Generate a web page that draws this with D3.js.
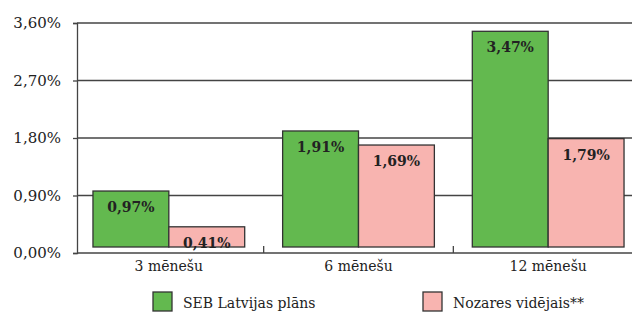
<!DOCTYPE html>
<html>
<head>
<meta charset="utf-8">
<script src="https://cdn.jsdelivr.net/npm/d3@7"></script>
<style>
	body { margin: 0; background: #fff; }
</style>
</head>
<body>
<div id="chart"></div>
<script>
var categories = ["3 mēnešu", "6 mēnešu", "12 mēnešu"];
var seriesNames = ["SEB Latvijas plāns", "Nozares vidējais**"];
var sebValues = [0.97, 1.91, 3.47];
var avgValues = [0.41, 1.69, 1.79];
var yTicks = [0, 0.9, 1.8, 2.7, 3.6];

var colors = ["#63b94f", "#f8b4b0"];
var font = "'DejaVu Serif', serif";

var width = 632, height = 313;
var margin = {top: 23, left: 77, bottom: 60};

var svg = d3.select("#chart").append("svg")
	.attr("width", width)
	.attr("height", height)
	.attr("font-family", font);

var y = d3.scaleLinear()
	.domain([0, 3.6])
	.range([height - margin.bottom, margin.top]);

var x0 = d3.scaleBand()
	.domain(categories)
	.range([74, 643]);

var x1 = d3.scaleBand()
	.domain(seriesNames)
	.range([x0.bandwidth() * 0.1, x0.bandwidth() * 0.9]);

var fmt = function(v) { return v.toFixed(2).replace(".", ",") + "%"; };

// gridlines
svg.append("g").selectAll("line")
	.data(yTicks)
	.enter().append("line")
	.attr("x1", margin.left).attr("x2", width)
	.attr("y1", function(d) { return y(d); })
	.attr("y2", function(d) { return y(d); })
	.style("stroke", "#444")
	.style("stroke-width", 1.3);

// y axis
var yAxis = svg.append("g")
	.attr("transform", "translate(" + margin.left + ",0)")
	.call(d3.axisLeft(y).tickValues(yTicks).tickSize(4).tickPadding(12).tickFormat(fmt));
yAxis.attr("font-family", font).attr("font-size", 15);
yAxis.select(".domain").style("stroke", "#444").style("stroke-width", 1.3);
yAxis.selectAll(".tick line").style("stroke", "#444").style("stroke-width", 1.3);
yAxis.selectAll("text").style("fill", "#222");

// category boundary ticks (pointing up)
svg.append("g").selectAll("line")
	.data(categories.slice(1))
	.enter().append("line")
	.attr("x1", function(d) { return x0(d); })
	.attr("x2", function(d) { return x0(d); })
	.attr("y1", y(0)).attr("y2", y(0) - 7)
	.style("stroke", "#444")
	.style("stroke-width", 1.3);

// bars
var rows = categories.map(function(c, i) {
	return {cat: c, vals: [
		{name: seriesNames[0], v: sebValues[i], c: colors[0]},
		{name: seriesNames[1], v: avgValues[i], c: colors[1]}
	]};
});

var barFloor = 6;

var grp = svg.selectAll(".grp")
	.data(rows)
	.enter().append("g")
	.attr("class", "grp")
	.attr("transform", function(d) { return "translate(" + x0(d.cat) + ",0)"; });

grp.selectAll("rect")
	.data(function(d) { return d.vals; })
	.enter().append("rect")
	.attr("x", function(d) { return x1(d.name); })
	.attr("width", x1.bandwidth())
	.attr("y", function(d) { return y(d.v); })
	.attr("height", function(d) { return y(0) - barFloor - y(d.v); })
	.style("fill", function(d) { return d.c; })
	.style("stroke", "#333")
	.style("stroke-width", 1.3);

grp.selectAll(".lbl")
	.data(function(d) { return d.vals; })
	.enter().append("text")
	.attr("class", "lbl")
	.attr("x", function(d) { return x1(d.name) + x1.bandwidth() / 2; })
	.attr("y", function(d) { return y(d.v) + 21; })
	.attr("text-anchor", "middle")
	.attr("font-size", 14)
	.attr("font-weight", "bold")
	.attr("fill", "#222")
	.text(function(d) { return fmt(d.v); });

// category labels
svg.append("g").selectAll("text")
	.data(categories)
	.enter().append("text")
	.attr("x", function(d) { return x0(d) + x0.bandwidth() / 2; })
	.attr("y", y(0) + 18)
	.attr("text-anchor", "middle")
	.attr("font-size", 14)
	.attr("fill", "#222")
	.text(function(d) { return d; });

// legend
var legendX = [153, 423];
var leg = svg.append("g").selectAll("g")
	.data(seriesNames)
	.enter().append("g")
	.attr("transform", function(d, i) { return "translate(" + legendX[i] + ",292)"; });

leg.append("rect")
	.attr("width", 19).attr("height", 19)
	.style("fill", function(d, i) { return colors[i]; })
	.style("stroke", "#333")
	.style("stroke-width", 1.3);

leg.append("text")
	.attr("x", 30).attr("y", 16)
	.attr("font-size", 14)
	.attr("fill", "#222")
	.text(function(d) { return d; });
</script>
</body>
</html>
